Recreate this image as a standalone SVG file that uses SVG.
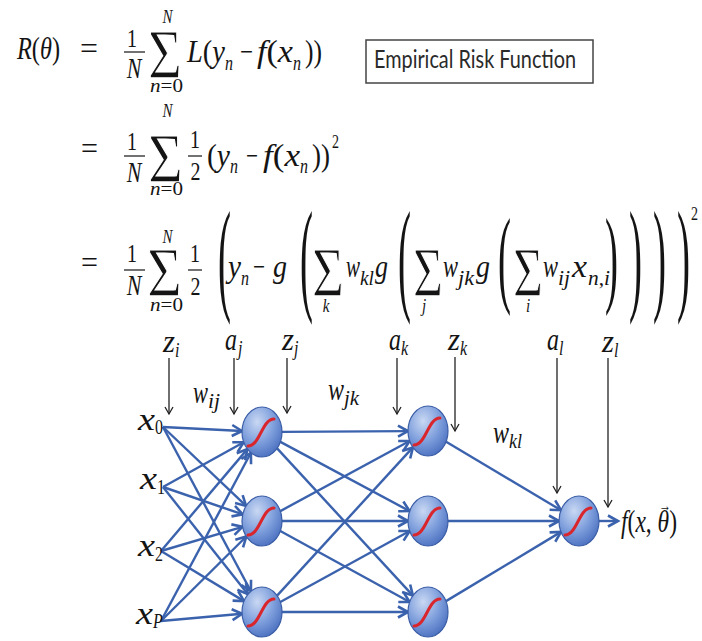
<svg xmlns="http://www.w3.org/2000/svg" width="702" height="641" viewBox="0 0 702 641">
<defs>
<style>
.t{font-family:"Liberation Serif","Times New Roman",serif;fill:#141414}
.i{font-style:italic}
.sum{stroke:#fff;stroke-width:0.9;paint-order:normal}
.bar{stroke:#141414;stroke-width:1.2}
.e{stroke:#3b62ad;stroke-width:2.4;fill:none;marker-end:url(#ab)}
.v{stroke:#222;stroke-width:1.3;fill:none;marker-end:url(#ak)}
.nd{fill:url(#ng);stroke:#3a5da6;stroke-width:1.2}
.sg{fill:none;stroke:#d9262c;stroke-width:3;stroke-linecap:round}
.box{fill:none;stroke:#444;stroke-width:1.5}
.bt{font-family:Lato,"Liberation Sans",sans-serif;fill:#2a2a2a}
</style>
<radialGradient id="ng" cx="0.38" cy="0.3" r="0.75">
<stop offset="0" stop-color="#c9d8f3"/>
<stop offset="0.55" stop-color="#7f9fdc"/>
<stop offset="1" stop-color="#4a6fbf"/>
</radialGradient>
<marker id="ab" markerUnits="userSpaceOnUse" markerWidth="16" markerHeight="16" refX="12" refY="8" orient="auto">
<path d="M2,2.5 L12,8 L2,13.5" fill="none" stroke="#3b62ad" stroke-width="2.6"/>
</marker>
<marker id="ak" markerUnits="userSpaceOnUse" markerWidth="12" markerHeight="12" refX="9" refY="6" orient="auto">
<path d="M2,2 L9,6 L2,10" fill="none" stroke="#222" stroke-width="1.3"/>
</marker>
</defs>
<rect width="702" height="641" fill="#fff"/>

<g id="equations">
<line class="bar" x1="124" y1="52" x2="145" y2="52"/>
<line class="bar" x1="124" y1="156" x2="145" y2="156"/>
<line class="bar" x1="188" y1="156" x2="202" y2="156"/>
<line class="bar" x1="124" y1="270" x2="145" y2="270"/>
<line class="bar" x1="188" y1="270" x2="202" y2="270"/>
<g class="t" transform="scale(1,1.3)">
<text x="17" y="45.38" font-size="24" textLength="43" lengthAdjust="spacingAndGlyphs"><tspan class="i">R</tspan>(<tspan class="i">θ</tspan>)</text>
<text x="80" y="45.38" font-size="24" textLength="18" lengthAdjust="spacingAndGlyphs">=</text>
<text x="132" y="36.15" font-size="20" text-anchor="middle">1</text>
<text x="134" y="60" font-size="22" class="i" text-anchor="middle">N</text>
<text class="sum" x="148" y="60" font-size="54" textLength="34" lengthAdjust="spacingAndGlyphs">Σ</text>
<text x="167.5" y="17.69" font-size="15" class="i" text-anchor="middle">N</text>
<text x="150" y="70.77" font-size="15" textLength="33" lengthAdjust="spacingAndGlyphs"><tspan class="i">n</tspan>=0</text>
<text x="187" y="47.69" font-size="24" textLength="38" lengthAdjust="spacingAndGlyphs"><tspan class="i">L</tspan>(<tspan class="i">y</tspan></text>
<text x="225" y="53.85" font-size="16" class="i">n</text>
<text x="240" y="47.69" font-size="24" textLength="13" lengthAdjust="spacingAndGlyphs">−</text>
<text x="257" y="47.69" font-size="24" textLength="36" lengthAdjust="spacingAndGlyphs"><tspan class="i">f</tspan>(<tspan class="i">x</tspan></text>
<text x="293" y="53.85" font-size="16" class="i">n</text>
<text x="305" y="47.69" font-size="24" textLength="17" lengthAdjust="spacingAndGlyphs">))</text>

<text x="81" y="122.31" font-size="24" textLength="17" lengthAdjust="spacingAndGlyphs">=</text>
<text x="132" y="115.38" font-size="20" text-anchor="middle">1</text>
<text x="134" y="140" font-size="22" class="i" text-anchor="middle">N</text>
<text class="sum" x="148" y="140" font-size="54" textLength="35" lengthAdjust="spacingAndGlyphs">Σ</text>
<text x="167.5" y="90" font-size="15" class="i" text-anchor="middle">N</text>
<text x="150" y="150" font-size="15" textLength="33" lengthAdjust="spacingAndGlyphs"><tspan class="i">n</tspan>=0</text>
<text x="195" y="113.85" font-size="20" text-anchor="middle">1</text>
<text x="195.5" y="138.46" font-size="20" text-anchor="middle">2</text>
<text x="207" y="127.69" font-size="24" textLength="23" lengthAdjust="spacingAndGlyphs">(<tspan class="i">y</tspan></text>
<text x="230" y="133.08" font-size="16" class="i">n</text>
<text x="246" y="127.69" font-size="24" textLength="12" lengthAdjust="spacingAndGlyphs">−</text>
<text x="263" y="127.69" font-size="24" textLength="37" lengthAdjust="spacingAndGlyphs"><tspan class="i">f</tspan>(<tspan class="i">x</tspan></text>
<text x="300" y="133.08" font-size="16" class="i">n</text>
<text x="312" y="127.69" font-size="24" textLength="18" lengthAdjust="spacingAndGlyphs">))</text>
<text x="332" y="113.85" font-size="14">2</text>

<text x="81" y="210" font-size="24" textLength="17" lengthAdjust="spacingAndGlyphs">=</text>
<text x="132" y="201.54" font-size="20" text-anchor="middle">1</text>
<text x="134" y="226.92" font-size="22" class="i" text-anchor="middle">N</text>
<text class="sum" x="147" y="227.69" font-size="54" textLength="35" lengthAdjust="spacingAndGlyphs">Σ</text>
<text x="167.5" y="186.92" font-size="15" class="i" text-anchor="middle">N</text>
<text x="150" y="239.23" font-size="15" textLength="33" lengthAdjust="spacingAndGlyphs"><tspan class="i">n</tspan>=0</text>
<text x="195" y="201.54" font-size="20" text-anchor="middle">1</text>
<text x="195.5" y="226.92" font-size="20" text-anchor="middle">2</text>
<text x="218" y="229.2" font-size="96" textLength="13" lengthAdjust="spacingAndGlyphs">(</text>
<text x="228" y="213.08" font-size="24" class="i" textLength="13" lengthAdjust="spacingAndGlyphs">y</text>
<text x="241" y="219.23" font-size="16" class="i">n</text>
<text x="253" y="213.08" font-size="24" textLength="12" lengthAdjust="spacingAndGlyphs">−</text>
<text x="273" y="213.08" font-size="24" class="i" textLength="14" lengthAdjust="spacingAndGlyphs">g</text>
<text x="300" y="229.2" font-size="96" textLength="13" lengthAdjust="spacingAndGlyphs">(</text>
<text class="sum" x="312" y="227.69" font-size="54" textLength="32" lengthAdjust="spacingAndGlyphs">Σ</text>
<text x="326" y="240" font-size="15" class="i" text-anchor="middle">k</text>
<text x="346" y="213.08" font-size="24" class="i" textLength="14" lengthAdjust="spacingAndGlyphs">w</text>
<text x="360" y="219.23" font-size="16" class="i" textLength="14" lengthAdjust="spacingAndGlyphs">kl</text>
<text x="375" y="213.08" font-size="24" class="i" textLength="13" lengthAdjust="spacingAndGlyphs">g</text>
<text x="398" y="229.2" font-size="96" textLength="13" lengthAdjust="spacingAndGlyphs">(</text>
<text class="sum" x="413" y="227.69" font-size="54" textLength="30" lengthAdjust="spacingAndGlyphs">Σ</text>
<text x="424" y="240" font-size="15" class="i" text-anchor="middle">j</text>
<text x="443" y="213.08" font-size="24" class="i" textLength="15" lengthAdjust="spacingAndGlyphs">w</text>
<text x="458" y="219.23" font-size="16" class="i" textLength="16" lengthAdjust="spacingAndGlyphs">jk</text>
<text x="476" y="213.08" font-size="24" class="i" textLength="14" lengthAdjust="spacingAndGlyphs">g</text>
<text x="498" y="225.3" font-size="83" textLength="13" lengthAdjust="spacingAndGlyphs">(</text>
<text class="sum" x="513" y="227.69" font-size="54" textLength="30" lengthAdjust="spacingAndGlyphs">Σ</text>
<text x="528" y="240" font-size="15" class="i" text-anchor="middle">i</text>
<text x="543" y="213.08" font-size="24" class="i" textLength="15" lengthAdjust="spacingAndGlyphs">w</text>
<text x="558" y="219.23" font-size="16" class="i" textLength="12" lengthAdjust="spacingAndGlyphs">ij</text>
<text x="572" y="213.08" font-size="24" class="i" textLength="15" lengthAdjust="spacingAndGlyphs">x</text>
<text x="588" y="219.23" font-size="16" textLength="22" lengthAdjust="spacingAndGlyphs"><tspan class="i">n</tspan>,<tspan class="i">i</tspan></text>
<text x="605" y="225.3" font-size="83" textLength="13" lengthAdjust="spacingAndGlyphs">)</text>
<text x="629" y="229.2" font-size="96" textLength="13" lengthAdjust="spacingAndGlyphs">)</text>
<text x="653" y="229.2" font-size="96" textLength="13" lengthAdjust="spacingAndGlyphs">)</text>
<text x="677" y="229.2" font-size="96" textLength="13" lengthAdjust="spacingAndGlyphs">)</text>
<text x="691" y="169.23" font-size="14">2</text>
</g>
</g>

<g id="risk-box">
<rect class="box" x="366" y="40" width="227" height="43"/>
<text class="bt" transform="scale(1,1.3)" x="374" y="52.31" font-size="19" textLength="202" lengthAdjust="spacingAndGlyphs">Empirical Risk Function</text>
</g>

<g id="connectors">
<line class="v" x1="169" y1="358" x2="169" y2="414"/>
<line class="v" x1="234" y1="358" x2="234" y2="414"/>
<line class="v" x1="287" y1="358" x2="287" y2="413"/>
<line class="v" x1="397" y1="358" x2="397" y2="414"/>
<line class="v" x1="455" y1="357" x2="455" y2="431"/>
<line class="v" x1="557" y1="358" x2="557" y2="493"/>
<line class="v" x1="608" y1="358" x2="608" y2="507"/>
<path class="e" d="M163,427 L242.0,431.0"/>
<path class="e" d="M163,427 L246.1,505.9"/>
<path class="e" d="M163,427 L250.9,591.2"/>
<path class="e" d="M163,487 L243.7,442.2"/>
<path class="e" d="M163,487 L242.7,514.4"/>
<path class="e" d="M163,487 L247.9,594.2"/>
<path class="e" d="M161,551 L247.4,449.1"/>
<path class="e" d="M161,551 L242.5,526.8"/>
<path class="e" d="M161,551 L244.0,601.1"/>
<path class="e" d="M161,621 L250.9,452.8"/>
<path class="e" d="M161,621 L246.3,536.5"/>
<path class="e" d="M161,621 L242.1,613.8"/>
<path class="e" d="M282.0,431.9 L408.0,431.1"/>
<path class="e" d="M280.4,441.9 L409.6,511.1"/>
<path class="e" d="M277.1,448.4 L412.9,595.6"/>
<path class="e" d="M280.3,511.1 L409.6,441.0"/>
<path class="e" d="M282,521 L408,521"/>
<path class="e" d="M280.3,531.0 L409.7,602.0"/>
<path class="e" d="M277.1,595.6 L412.9,447.4"/>
<path class="e" d="M280.3,602.0 L409.7,531.0"/>
<path class="e" d="M282,612 L408,612"/>
<path class="e" d="M446.1,441.8 L561.0,510.2"/>
<path class="e" d="M448,521 L559,521"/>
<path class="e" d="M446.0,601.1 L561.0,531.9"/>
<path class="e" d="M599,521 L618,521"/>
</g>

<g id="h1-0" transform="translate(262,432)"><ellipse class="nd" rx="20" ry="25"/><path class="sg" d="M-14,14 C-2,14 0,-13 12,-13"/></g>
<g id="h1-1" transform="translate(262,521)"><ellipse class="nd" rx="20" ry="25"/><path class="sg" d="M-14,14 C-2,14 0,-13 12,-13"/></g>
<g id="h1-2" transform="translate(262,612)"><ellipse class="nd" rx="20" ry="25"/><path class="sg" d="M-14,14 C-2,14 0,-13 12,-13"/></g>
<g id="h2-0" transform="translate(428,431)"><ellipse class="nd" rx="20" ry="25"/><path class="sg" d="M-14,14 C-2,14 0,-13 12,-13"/></g>
<g id="h2-1" transform="translate(428,521)"><ellipse class="nd" rx="20" ry="25"/><path class="sg" d="M-14,14 C-2,14 0,-13 12,-13"/></g>
<g id="h2-2" transform="translate(428,612)"><ellipse class="nd" rx="20" ry="25"/><path class="sg" d="M-14,14 C-2,14 0,-13 12,-13"/></g>
<g id="out" transform="translate(579,521)"><ellipse class="nd" rx="20" ry="25"/><path class="sg" d="M-14,14 C-2,14 0,-13 12,-13"/></g>

<g id="labels" class="t" transform="scale(1,1.3)">
<text x="163" y="270.77" font-size="24" class="i" textLength="12" lengthAdjust="spacingAndGlyphs">z</text>
<text x="175" y="274.62" font-size="16" class="i">i</text>
<text x="225" y="269.23" font-size="24" class="i" textLength="12" lengthAdjust="spacingAndGlyphs">a</text>
<text x="238" y="273.08" font-size="16" class="i">j</text>
<text x="282" y="269.23" font-size="24" class="i" textLength="12" lengthAdjust="spacingAndGlyphs">z</text>
<text x="294" y="273.08" font-size="16" class="i">j</text>
<text x="389" y="269.23" font-size="24" class="i" textLength="12" lengthAdjust="spacingAndGlyphs">a</text>
<text x="401" y="273.08" font-size="16" class="i">k</text>
<text x="448" y="269.23" font-size="24" class="i" textLength="12" lengthAdjust="spacingAndGlyphs">z</text>
<text x="460" y="273.08" font-size="16" class="i">k</text>
<text x="547" y="269.23" font-size="24" class="i" textLength="12" lengthAdjust="spacingAndGlyphs">a</text>
<text x="559" y="273.08" font-size="16" class="i">l</text>
<text x="602" y="270.77" font-size="24" class="i" textLength="12" lengthAdjust="spacingAndGlyphs">z</text>
<text x="614" y="274.62" font-size="16" class="i">l</text>
<text x="193" y="310" font-size="24" class="i" textLength="15" lengthAdjust="spacingAndGlyphs">w</text>
<text x="208" y="313.85" font-size="16" class="i" textLength="12" lengthAdjust="spacingAndGlyphs">ij</text>
<text x="328" y="307.69" font-size="24" class="i" textLength="16" lengthAdjust="spacingAndGlyphs">w</text>
<text x="344" y="311.54" font-size="16" class="i" textLength="15" lengthAdjust="spacingAndGlyphs">jk</text>
<text x="493" y="340.77" font-size="24" class="i" textLength="16" lengthAdjust="spacingAndGlyphs">w</text>
<text x="509" y="344.62" font-size="16" class="i" textLength="13" lengthAdjust="spacingAndGlyphs">kl</text>
<text x="138" y="330.77" font-size="24" class="i" textLength="17" lengthAdjust="spacingAndGlyphs">x</text>
<text x="155" y="333.85" font-size="16">0</text>
<text x="140" y="376.15" font-size="24" class="i" textLength="17" lengthAdjust="spacingAndGlyphs">x</text>
<text x="157" y="380" font-size="16">1</text>
<text x="138" y="427.69" font-size="24" class="i" textLength="17" lengthAdjust="spacingAndGlyphs">x</text>
<text x="155" y="431.54" font-size="16">2</text>
<text x="136" y="480" font-size="24" class="i" textLength="17" lengthAdjust="spacingAndGlyphs">x</text>
<text x="153" y="483.08" font-size="16" class="i">P</text>
<text x="621" y="409.23" font-size="24" textLength="56" lengthAdjust="spacingAndGlyphs"><tspan class="i">f</tspan>(<tspan class="i">x</tspan>, <tspan class="i">θ</tspan>)</text>
<text x="665" y="393" font-size="12" text-anchor="middle">→</text>
</g>
</svg>
